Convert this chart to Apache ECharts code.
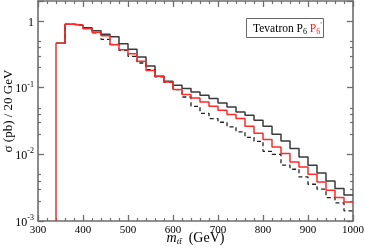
<!DOCTYPE html>
<html><head><meta charset="utf-8">
<script src="https://cdn.jsdelivr.net/npm/echarts@6/dist/echarts.min.js"></script>
<style>html,body{margin:0;padding:0;background:#fff}#c{width:365px;height:252px}</style>
</head><body><div id="c"></div>
<script>
// bin lower edges (GeV), bin width 20 GeV
const binStarts = [340,360,380,400,420,440,460,480,500,520,540,560,580,600,620,640,660,680,700,720,740,760,780,800,820,840,860,880,900,920,940,960,980];
const binWidth = 20;
// Tevatron, black solid
const sigmaBlack = [0.463,0.892,0.862,0.791,0.713,0.632,0.580,0.455,0.377,0.288,0.211,0.148,0.125,0.109,0.0970,0.0863,0.0769,0.0687,0.0590,0.0514,0.0432,0.0386,0.0325,0.0264,0.0200,0.0159,0.0122,0.00914,0.00687,0.00526,0.00399,0.00307,0.00246];
// P6 prime, red
const sigmaRed = [0.463,0.892,0.862,0.764,0.677,0.600,0.443,0.370,0.324,0.249,0.182,0.148,0.122,0.0937,0.0788,0.0701,0.0611,0.0526,0.0458,0.0395,0.0344,0.0264,0.0207,0.0167,0.0129,0.0103,0.00769,0.00647,0.00504,0.00385,0.00290,0.00225,0.00193];
// P6, black dashed
const sigmaDashed = [0.463,0.892,0.862,0.777,0.665,0.532,0.448,0.364,0.296,0.235,0.187,0.145,0.120,0.0937,0.0726,0.0526,0.0413,0.0344,0.0303,0.0259,0.0218,0.0180,0.0157,0.0111,0.0100,0.00687,0.00598,0.00458,0.00356,0.00300,0.00225,0.00187,0.00142];
const xMin = 300, xMax = 1000, xStep = 100;
const yMin = 0.001, yMax = 2;
const yMinorTicks = [0.002,0.003,0.004,0.005,0.02,0.03,0.04,0.05,0.2,0.3,0.4,0.5];

function hist(vals, fromBottom){
  const d = fromBottom ? [[binStarts[0], yMin]] : [];
  vals.forEach((v,i)=>d.push([binStarts[i], v]));
  d.push([binStarts[binStarts.length-1]+binWidth, vals[vals.length-1]]);
  return d;
}
const serif = 'Liberation Serif';
const frame = '#6e6e6e';
const lin = v => Math.log10(v);

const xBase = {
  type:'value', min:xMin, max:xMax, interval:xStep,
  axisLine:{show:true, onZero:false, lineStyle:{color:frame, width:1.6}},
  axisTick:{show:true, inside:true, length:6, lineStyle:{color:frame, width:1.3}},
  minorTick:{show:true, splitNumber:5, length:3, lineStyle:{color:frame, width:1.2}},
  splitLine:{show:false}, minorSplitLine:{show:false}
};
const chart = echarts.init(document.getElementById('c'), null, {renderer:'canvas'});
chart.setOption({
  animation:false,
  backgroundColor:'#fff',
  title:{
    text:'{a|Tevatron P}{sb|6}{a| }{r|P}{rsb|6}{rsp|\u2032}',
    left:246, top:18, padding:[3,2,2,7],
    borderColor:'#666', borderWidth:1,
    textStyle:{fontWeight:'normal', rich:{
      a:{fontFamily:serif, fontWeight:'normal', fontSize:11.5, color:'#000'},
      sb:{fontFamily:serif, fontWeight:'normal', fontSize:8, color:'#000', padding:[6,0,0,0]},
      r:{fontFamily:serif, fontWeight:'normal', fontSize:11.5, color:'#ff1a1a'},
      rsb:{fontFamily:serif, fontWeight:'normal', fontSize:8, color:'#ff1a1a', padding:[6,0,0,0]},
      rsp:{fontFamily:serif, fontWeight:'normal', fontSize:9, color:'#ff1a1a', padding:[0,0,7,0]}
    }}
  },
  grid:{left:38, right:12, top:1, bottom:31, containLabel:false, outerBoundsMode:'none'},
  xAxis:[
    Object.assign({}, xBase, {
      position:'bottom',
      axisLabel:{show:true, margin:4, fontFamily:serif, fontSize:11, color:'#000', formatter:v=>String(v)},
      name:'{m|m}{sub|tt\u0304}{n|  (GeV)}', nameLocation:'middle', nameGap:9, nameMoveOverlap:false,
      nameTextStyle:{rich:{
        m:{fontFamily:serif, fontStyle:'italic', fontSize:14, color:'#000'},
        sub:{fontFamily:serif, fontStyle:'italic', fontSize:9, color:'#000', padding:[7,0,0,0]},
        n:{fontFamily:serif, fontSize:14, color:'#000'}
      }}
    }),
    Object.assign({}, xBase, {position:'top', axisLabel:{show:false}})
  ],
  yAxis:[
    {
      type:'log', logBase:10, min:yMin, max:yMax, position:'left',
      axisLine:{show:true, lineStyle:{color:frame, width:1.6}},
      axisTick:{show:true, inside:true, length:6, lineStyle:{color:frame, width:1.3}},
      splitLine:{show:false},
      axisLabel:{margin:4, fontFamily:serif, color:'#000',
        formatter:function(v){
          const l = Math.log10(v), e = Math.round(l);
          if (Math.abs(l-e) > 1e-6) return '';
          if (e === 0) return '{b|1}';
          return '{b|10}{s|' + e + '}';
        },
        rich:{
          b:{fontFamily:serif, fontSize:12, color:'#000', padding:[3,0,0,0]},
          s:{fontFamily:serif, fontSize:8, color:'#000', padding:[0,0,6,0]}
        }
      },
      name:'\u03c3 (pb) / 20 GeV', nameLocation:'middle', nameGap:23, nameMoveOverlap:false,
      nameTextStyle:{fontFamily:serif, fontSize:13, color:'#000'}
    },
    {
      type:'value', min:lin(yMin), max:lin(yMax), position:'left',
      axisLine:{show:false}, axisLabel:{show:false}, splitLine:{show:false},
      axisTick:{show:true, inside:true, length:3, customValues:yMinorTicks.map(lin), lineStyle:{color:frame, width:1.2}}
    },
    {
      type:'log', logBase:10, min:yMin, max:yMax, position:'right',
      axisLine:{show:true, lineStyle:{color:frame, width:1.6}},
      axisTick:{show:true, inside:true, length:6, lineStyle:{color:frame, width:1.3}},
      axisLabel:{show:false}, splitLine:{show:false}
    },
    {
      type:'value', min:lin(yMin), max:lin(yMax), position:'right',
      axisLine:{show:false}, axisLabel:{show:false}, splitLine:{show:false},
      axisTick:{show:true, inside:true, length:3, customValues:yMinorTicks.map(lin), lineStyle:{color:frame, width:1.2}}
    }
  ],
  series:[
    {type:'line', step:'end', data:hist(sigmaBlack, false), showSymbol:false, symbol:'none',
     lineStyle:{color:'#3a3a3a', width:1.5}, z:3},
    {type:'line', step:'end', data:hist(sigmaDashed, false), showSymbol:false, symbol:'none',
     lineStyle:{color:'#222', width:1.3, type:[4,3]}, z:4},
    {type:'line', step:'end', data:hist(sigmaRed, true), showSymbol:false, symbol:'none',
     lineStyle:{color:'#ff2a2a', width:1.5}, z:5}
  ]
});
</script></body></html>
